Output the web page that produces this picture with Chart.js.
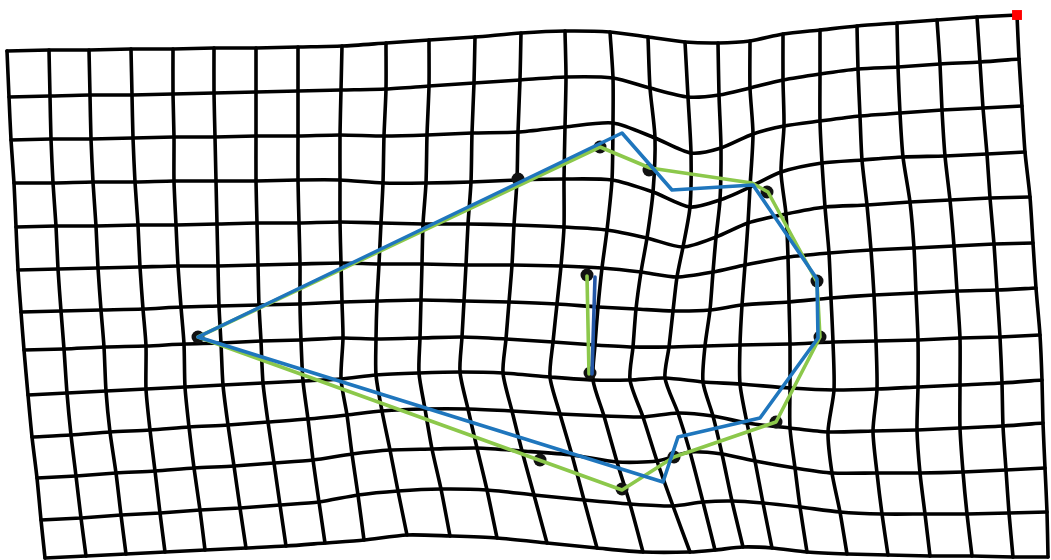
<!DOCTYPE html>
<html>
<head>
<meta charset="utf-8">
<script src="https://cdn.jsdelivr.net/npm/chart.js@4/dist/chart.umd.min.js"></script>
<style>
  html, body { margin: 0; padding: 0; background: #ffffff; overflow: hidden; }
  #wrap { width: 1051px; height: 560px; }
</style>
</head>
<body>
<div id="wrap"><canvas id="c" width="1051" height="560"></canvas></div>
<script>
// Deformed mesh: node positions, one row of the mesh per inner array (26 nodes per row, 13 rows).
const nodeX = [
  [7, 49, 89, 131, 173, 214, 256, 298, 342, 386, 429, 475, 521, 565, 610, 648, 685, 718, 750, 783, 820, 857, 897, 937, 977, 1017],
  [9, 50, 90, 132, 173, 214, 256, 298, 341, 386, 429, 474, 520, 566, 613, 650, 688, 719, 750, 783, 820, 858, 898, 940, 980, 1019],
  [11, 51, 91, 133, 174, 215, 256, 298, 340, 384, 427, 472, 518, 565, 613, 655, 691, 721, 753, 784, 820, 860, 900, 942, 983, 1022],
  [14, 53, 93, 135, 174, 216, 256, 298, 340, 383, 426, 471, 517, 564, 612, 653, 690, 720, 750, 781, 822, 862, 903, 945, 987, 1025],
  [16, 56, 96, 138, 176, 217, 257, 299, 340, 381, 423, 468, 514, 564, 607, 647, 683, 716, 748, 786, 825, 867, 910, 950, 990, 1030],
  [18, 58, 98, 140, 178, 218, 258, 300, 341, 379, 422, 466, 512, 561, 602, 641, 677, 713, 745, 788, 829, 871, 914, 954, 994, 1033],
  [21, 61, 101, 143, 181, 219, 259, 300, 342, 377, 421, 464, 509, 557, 598, 636, 673, 710, 742, 789, 831, 874, 916, 957, 997, 1036],
  [24, 64, 104, 146, 184, 221, 261, 301, 343, 376, 420, 462, 506, 553, 595, 633, 669, 705, 740, 790, 833, 876, 918, 960, 1000, 1040],
  [28, 67, 106, 146, 185, 223, 263, 303, 341, 376, 419, 460, 503, 550, 593, 630, 665, 703, 740, 790, 834, 877, 918, 960, 1002, 1042],
  [32, 71, 110, 150, 189, 228, 268, 308, 347, 382, 425, 468, 512, 560, 604, 643, 678, 713, 747, 790, 828, 873, 917, 960, 1003, 1043],
  [37, 76, 116, 155, 194, 234, 274, 313, 352, 390, 432, 477, 522, 572, 617, 657, 690, 722, 755, 795, 832, 877, 920, 963, 1006, 1045],
  [41, 81, 121, 160, 200, 240, 280, 319, 358, 398, 441, 487, 534, 584, 630, 673, 703, 732, 763, 800, 840, 882, 925, 967, 1009, 1047],
  [45, 86, 126, 165, 205, 246, 286, 325, 364, 407, 450, 497, 547, 597, 643, 690, 715, 743, 772, 807, 847, 888, 930, 972, 1013, 1048]
];
const nodeY = [
  [51, 50, 50, 49, 49, 48, 48, 47, 46, 43, 40, 37, 33, 31, 32, 37, 42, 43, 41, 34, 30, 26, 23, 20, 17, 15],
  [97, 96, 95, 95, 94, 93, 92, 91, 90, 89, 86, 83, 80, 77, 78, 88, 97, 95, 88, 80, 74, 69, 67, 64, 62, 59],
  [140, 139, 139, 138, 137, 137, 136, 136, 135, 136, 135, 133, 132, 127, 123, 138, 153, 148, 134, 126, 121, 116, 113, 110, 108, 106],
  [183, 183, 182, 182, 181, 181, 181, 180, 180, 183, 183, 182, 180, 179, 180, 192, 207, 200, 187, 172, 163, 160, 157, 156, 154, 152],
  [227, 226, 226, 225, 225, 224, 223, 223, 222, 223, 224, 224, 225, 227, 230, 238, 247, 237, 223, 214, 207, 205, 202, 200, 198, 197],
  [270, 269, 268, 267, 266, 266, 265, 264, 263, 264, 264, 265, 265, 266, 268, 272, 277, 272, 265, 257, 253, 250, 248, 246, 244, 243],
  [312, 311, 310, 309, 307, 306, 305, 304, 302, 301, 300, 301, 302, 304, 307, 309, 311, 310, 305, 302, 298, 295, 293, 291, 290, 288],
  [350, 349, 347, 346, 344, 343, 341, 340, 338, 339, 338, 337, 339, 342, 345, 347, 347, 346, 345, 344, 342, 341, 340, 338, 337, 335],
  [395, 393, 391, 389, 387, 385, 383, 381, 379, 375, 373, 372, 373, 377, 380, 380, 378, 382, 384, 388, 390, 389, 387, 385, 383, 380],
  [437, 435, 432, 430, 427, 425, 422, 419, 415, 411, 409, 409, 411, 414, 416, 417, 413, 416, 423, 428, 432, 431, 430, 428, 426, 423],
  [478, 476, 473, 471, 468, 466, 463, 460, 454, 450, 449, 448, 451, 455, 462, 461, 452, 454, 461, 468, 473, 473, 473, 472, 470, 468],
  [520, 518, 515, 513, 510, 508, 505, 502, 495, 491, 489, 490, 495, 500, 504, 506, 502, 501, 503, 507, 512, 514, 514, 514, 513, 512],
  [558, 556, 554, 552, 550, 548, 546, 543, 540, 535, 536, 538, 543, 548, 552, 552, 550, 547, 548, 552, 554, 555, 556, 556, 557, 557]
];

// Landmarks (black dots)
const landmarkX = [198, 518, 600, 649, 767, 817, 820, 776, 674, 622, 540, 587, 590];
const landmarkY = [337, 179, 147, 170, 192, 281, 337, 422, 457, 489, 460, 275, 373];

// Outline A (green), closed
const greenX = [198, 600, 650, 752, 768, 817, 820, 776, 674, 622, 198];
const greenY = [337, 147, 168, 183, 192, 282, 337, 422, 457, 490, 337];
const greenInnerX = [587, 589];
const greenInnerY = [276, 374];

// Outline B (blue), closed
const blueX = [198, 622, 672, 753, 817, 818, 760, 678, 663, 198];
const blueY = [337, 133, 190, 185, 279, 338, 418, 437, 482, 337];
const blueInnerX = [595, 592];
const blueInnerY = [277, 374];

// Corner marker
const cornerX = [1017];
const cornerY = [15];

const pts = (xs, ys) => xs.map((x, i) => ({ x: x, y: ys[i] }));

const datasets = [];

datasets.push({
  label: 'outline B', data: pts(blueX, blueY), showLine: true,
  borderColor: '#1f76bd', borderWidth: 3.6, pointRadius: 0, tension: 0,
  borderJoinStyle: 'round', borderCapStyle: 'round', order: 0
});
datasets.push({
  label: 'inner B', data: pts(blueInnerX, blueInnerY), showLine: true,
  borderColor: '#2456a6', borderWidth: 3.6, pointRadius: 0, tension: 0,
  borderCapStyle: 'round', order: 1
});
datasets.push({
  label: 'outline A', data: pts(greenX, greenY), showLine: true,
  borderColor: '#8cc84b', borderWidth: 3.6, pointRadius: 0, tension: 0,
  borderJoinStyle: 'round', borderCapStyle: 'round', order: 2
});
datasets.push({
  label: 'inner A', data: pts(greenInnerX, greenInnerY), showLine: true,
  borderColor: '#8cc84b', borderWidth: 3.6, pointRadius: 0, tension: 0,
  borderCapStyle: 'round', order: 3
});
datasets.push({
  label: 'landmarks', data: pts(landmarkX, landmarkY), showLine: false,
  pointRadius: 6.5, pointBackgroundColor: '#111111', pointBorderWidth: 0, order: 4
});
datasets.push({
  label: 'corner', data: pts(cornerX, cornerY), showLine: false,
  pointStyle: 'rect', pointRadius: 7, pointBackgroundColor: '#ff0000', pointBorderWidth: 0, order: 5
});

const nRows = nodeX.length, nCols = nodeX[0].length;
for (let r = 0; r < nRows; r++) {
  datasets.push({
    label: 'row ' + r, data: pts(nodeX[r], nodeY[r]), showLine: true,
    borderColor: '#000000', borderWidth: 3.6, pointRadius: 0, tension: 0.25,
    borderCapStyle: 'round', borderJoinStyle: 'round', order: 10
  });
}
for (let c = 0; c < nCols; c++) {
  const xs = nodeX.map(row => row[c]);
  const ys = nodeY.map(row => row[c]);
  datasets.push({
    label: 'col ' + c, data: pts(xs, ys), showLine: true,
    borderColor: '#000000', borderWidth: 3.6, pointRadius: 0, tension: 0.25,
    borderCapStyle: 'round', borderJoinStyle: 'round', order: 10
  });
}

new Chart(document.getElementById('c'), {
  type: 'scatter',
  data: { datasets: datasets },
  options: {
    responsive: false,
    animation: false,
    events: [],
    layout: { padding: 0, autoPadding: false },
    plugins: { legend: { display: false }, tooltip: { enabled: false } },
    scales: {
      x: { type: 'linear', min: 0, max: 1051, display: false },
      y: { type: 'linear', min: 0, max: 560, reverse: true, display: false }
    }
  }
});
</script>
</body>
</html>
